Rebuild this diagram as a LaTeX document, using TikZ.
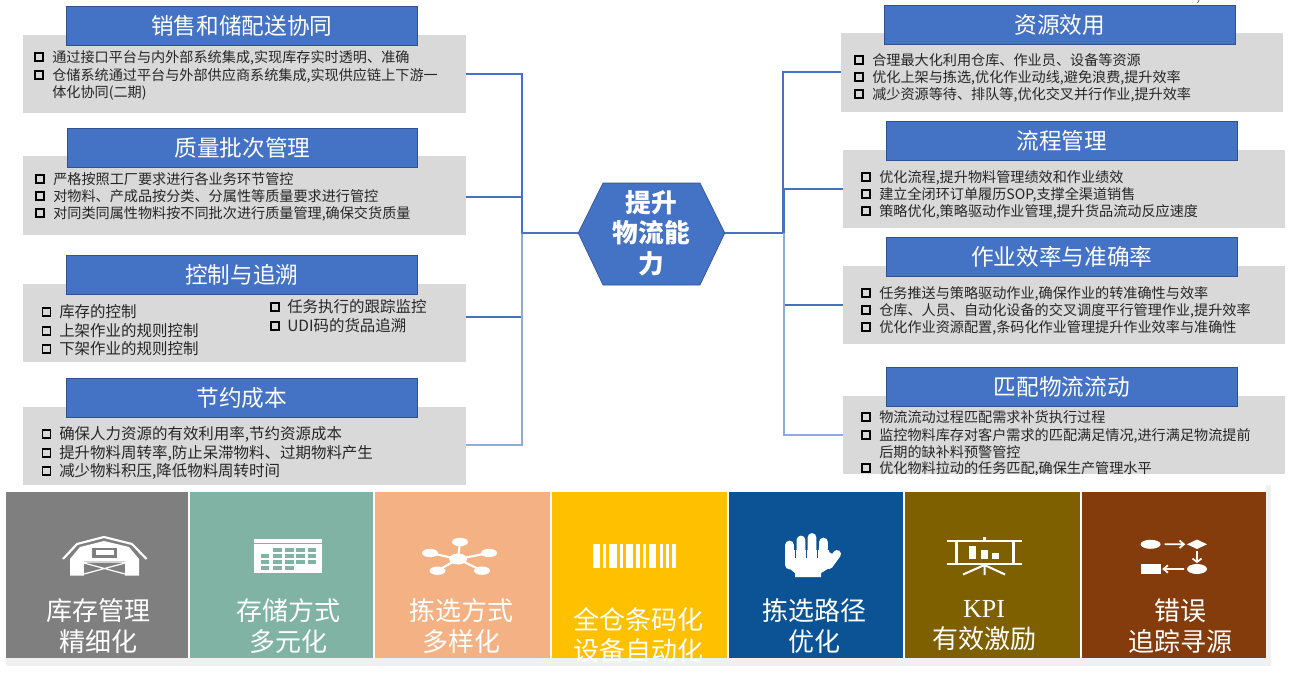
\documentclass[tikz,border=0pt]{standalone}
\usepackage{fontspec}
\setmainfont{Noto Sans CJK SC}
\newfontfamily\kpifont{Liberation Serif}
\definecolor{titleblue}{HTML}{4472C4}
\definecolor{titleedge}{HTML}{2F528F}
\definecolor{greybg}{HTML}{D9D9D9}
\definecolor{lightconn}{HTML}{8FAADC}
\definecolor{pGrey}{HTML}{7F7F7F}
\definecolor{pGreen}{HTML}{80B3A3}
\definecolor{pPeach}{HTML}{F4B183}
\definecolor{pYellow}{HTML}{FFC000}
\definecolor{pBlue}{HTML}{0B5394}
\definecolor{pOlive}{HTML}{7F6000}
\definecolor{pBrown}{HTML}{843C0C}
\definecolor{strip}{HTML}{F0F0F0}
\newcounter{lineno}
\tikzset{
  conn/.style={draw=titleblue,line width=.8pt},
  connlight/.style={draw=lightconn,line width=1.2pt},
  greybox/.style={fill=greybg,draw=none,inner sep=0,anchor=north west},
  titlebox/.style={fill=titleblue,draw=titleedge,line width=.7pt,inner sep=0,anchor=north west,text=white,font=\fontsize{17}{20}\selectfont},
  panel/.style={inner sep=0,anchor=north west},
  paneltext/.style={text=white,align=center,font=\fontsize{19.5}{23.3}\selectfont,inner sep=0},
  bulletbox/.style={draw=black,line width=1.4pt,minimum size=6pt,inner sep=0},
  itemsmall/.style={anchor=base west,inner sep=0,text=black!85,font=\fontsize{10.6}{12}\selectfont},
  itemlarge/.style={anchor=base west,inner sep=0,text=black!85,font=\fontsize{11.6}{13}\selectfont},
  icon/.style={fill=white,draw=none},
  iconline/.style={draw=white,line width=1.6pt},
}
% #1 name, #2 x1, #3 y1, #4 x2, #5 y2, #6 style
\newcommand{\pxbox}[6]{\node[#6,minimum width=(#4-#2)*0.75pt,minimum height=(#5-#3)*0.75pt] (#1) at (#2,#3) {};}
\newcommand{\titlerect}[6]{\node[titlebox,minimum width=(#4-#2)*0.75pt,minimum height=(#5-#3)*0.75pt] (#1) at (#2,#3) {#6};}
\newcommand{\panelrect}[6]{\node[panel,fill=#6,minimum width=(#4-#2)*0.75pt,minimum height=(#5-#3)*0.75pt] (#1) at (#2,#3) {};}
% #1 style, #2 bullet centre x, #3 text x, #4 y, #5 text
\newcommand{\bulletline}[5]{\stepcounter{lineno}\edef\nid{\arabic{lineno}}%
  \node[bulletbox] (b\nid) at (#2,#4) {};
  \node[#1] (t\nid) at (#3,#4+5) {#5};}
\newcommand{\contline}[4]{\stepcounter{lineno}\edef\nid{\arabic{lineno}}%
  \node[#1] (t\nid) at (#2,#3+5) {#4};}
\begin{document}
\begin{tikzpicture}[x=0.75pt,y=-0.75pt]
\useasboundingbox (0,0) rectangle (1296,675);
% connectors' hub
\node[inner sep=0,minimum width=146*0.75pt,minimum height=102*0.75pt] (hub) at (651.5,233) {};
\coordinate (lbus) at (522,233);
\coordinate (rbus) at (783,233);
\coordinate (rbusb) at (784,233);
\coordinate (le1) at (466,74);
\coordinate (le2) at (466,197);
\coordinate (le3) at (466,317);
\coordinate (le4) at (466,445);
\coordinate (re1) at (841,72);
\coordinate (re2) at (843,189);
\coordinate (re3) at (843,305);
\coordinate (re4) at (843,435);
\draw[conn] (le1) -| (lbus);
\draw[conn] (le2) -| (lbus);
\draw[conn] (le3) -| (lbus);
\draw[connlight] (le4) -| (lbus);
\draw[conn] (hub.west) -- (lbus);
\draw[conn] (re1) -| (rbus);
\draw[conn] (re2) -| (rbusb);
\draw[conn] (re3) -| (rbusb);
\draw[connlight] (re4) -| (rbusb);
\draw[conn] (hub.east) -- (rbus);
% left groups
\pxbox{lg1}{23}{35}{466}{113}{greybox}
\titlerect{lt1}{66}{6}{417}{45}{销售和储配送协同}
\bulletline{itemsmall}{39}{52}{57}{通过接口平台与内外部系统集成,实现库存实时透明、准确}
\bulletline{itemsmall}{39}{52}{75}{仓储系统通过平台与外部供应商系统集成,实现供应链上下游一}
\contline{itemsmall}{52}{92}{体化协同(二期)}
\pxbox{lg2}{23}{156}{466}{235}{greybox}
\titlerect{lt2}{67}{128}{417}{167}{质量批次管理}
\bulletline{itemsmall}{40}{53}{179}{严格按照工厂要求进行各业务环节管控}
\bulletline{itemsmall}{40}{53}{196}{对物料、产成品按分类、分属性等质量要求进行管控}
\bulletline{itemsmall}{40}{53}{213}{对同类同属性物料按不同批次进行质量管理,确保交货质量}
\pxbox{lg3}{23}{284}{466}{362}{greybox}
\titlerect{lt3}{66}{255}{417}{294}{控制与追溯}
\bulletline{itemlarge}{46.5}{59}{312}{库存的控制}
\bulletline{itemlarge}{46.5}{59}{331}{上架作业的规则控制}
\bulletline{itemlarge}{46.5}{59}{349}{下架作业的规则控制}
\bulletline{itemlarge}{275}{287}{307}{任务执行的跟踪监控}
\bulletline{itemlarge}{275}{287}{326}{UDI码的货品追溯}
\pxbox{lg4}{23}{407}{466}{485}{greybox}
\titlerect{lt4}{66}{378}{417}{417}{节约成本}
\bulletline{itemlarge}{46.5}{59}{434}{确保人力资源的有效利用率,节约资源成本}
\bulletline{itemlarge}{46.5}{59}{453}{提升物料周转率,防止呆滞物料、过期物料产生}
\bulletline{itemlarge}{46.5}{59}{471}{减少物料积压,降低物料周转时间}
% right groups
\pxbox{rg1}{841}{33}{1283}{112}{greybox}
\titlerect{rt1}{884}{5}{1235}{44}{资源效用}
\bulletline{itemsmall}{859}{872}{60}{合理最大化利用仓库、作业员、设备等资源}
\bulletline{itemsmall}{859}{872}{77}{优化上架与拣选,优化作业动线,避免浪费,提升效率}
\bulletline{itemsmall}{859}{872}{94}{减少资源等待、排队等,优化交叉并行作业,提升效率}
\pxbox{rg2}{843}{150}{1285}{228}{greybox}
\titlerect{rt2}{886}{121}{1237}{160}{流程管理}
\bulletline{itemsmall}{866}{879}{177}{优化流程,提升物料管理绩效和作业绩效}
\bulletline{itemsmall}{866}{879}{194}{建立全闭环订单履历SOP,支撑全渠道销售}
\bulletline{itemsmall}{866}{879}{211}{策略优化,策略驱动作业管理,提升货品流动反应速度}
\pxbox{rg3}{843}{266}{1285}{344}{greybox}
\titlerect{rt3}{886}{237}{1237}{276}{作业效率与准确率}
\bulletline{itemsmall}{866}{879}{293}{任务推送与策略驱动作业,确保作业的转准确性与效率}
\bulletline{itemsmall}{866}{879}{310}{仓库、人员、自动化设备的交叉调度平行管理作业,提升效率}
\bulletline{itemsmall}{866}{879}{327}{优化作业资源配置,条码化作业管理提升作业效率与准确性}
\pxbox{rg4}{843}{396}{1285}{474}{greybox}
\titlerect{rt4}{886}{367}{1237}{406}{匹配物流流动}
\bulletline{itemsmall}{866}{879}{417}{物流流动过程匹配需求补货执行过程}
\bulletline{itemsmall}{866}{879}{435}{监控物料库存对客户需求的匹配满足情况,进行满足物流提前}
\contline{itemsmall}{879}{452}{后期的缺补料预警管控}
\begin{scope}
\clip (843,460) rectangle (1285,474);
\bulletline{itemsmall}{866}{879}{468}{优化物料拉动的任务匹配,确保生产管理水平}
\end{scope}
% tiny mark at the top edge
\draw[black!70,line width=.5pt] (1199,0) -- (1197.5,3);
% hexagon
\fill[titleblue,draw=titleedge,line width=.5pt] (hub.west) -- (603,183) -- (700,183) -- (hub.east) -- (700,285) -- (603,285) -- cycle;
\node[inner sep=0,text=white,align=center,font=\fontsize{19.3}{23}\bfseries\selectfont] (hubtext) at (hub.center) {提升\\物流能\\力};
% bottom strip
\fill[strip] (6,485) -- (1271,485) -- (1271,666) -- (6,666) -- cycle;
\fill[white] (6,485) rectangle (1266,658);
\panelrect{p1}{6}{492}{188}{658}{pGrey}
\panelrect{p2}{190}{492}{373}{658}{pGreen}
\panelrect{p3}{375}{492}{550}{658}{pPeach}
\panelrect{p4}{552}{492}{727}{658}{pYellow}
\panelrect{p5}{729}{492}{903}{658}{pBlue}
\panelrect{p6}{905}{492}{1080}{658}{pOlive}
\panelrect{p7}{1082}{492}{1266}{658}{pBrown}
\node[paneltext] (x1) at (98,626) {库存管理\\精细化};
\node[paneltext] (x2) at (288,626) {存储方式\\多元化};
\node[paneltext] (x3) at (461,626) {拣选方式\\多样化};
\node[paneltext] (x4) at (638,635) {全仓条码化\\设备自动化};
\node[paneltext] (x5) at (814,626) {拣选路径\\优化};
\node[paneltext] (x6) at (984,626) {{\kpifont KPI}\\有效激励};
\node[paneltext] (x7) at (1180,626) {错误\\追踪寻源};
% barn icon
\draw[iconline,line join=round] (63,559) -- (77,544) -- (104,537) -- (132,544) -- (146.5,559);
\fill[icon] (70,575.5) -- (70,559) -- (80,547) -- (104,541) -- (129,547) -- (139,559) -- (139,575.5) -- cycle;
\fill[pGrey] (92,548) rectangle (117,557.5);
\fill[white] (96,549.8) rectangle (114,555);
\fill[pGrey] (84,561) rectangle (125,576);
\draw[white,line width=.9pt] (84,562) -- (125,562) (84,563) -- (125,574) (125,563) -- (84,574);
% table icon
\fill[icon] (254,539) rectangle (322,543.3);
\fill[icon] (254,544.2) rectangle (322,573);
\foreach \cx/\cw in {272.5/9,284.6/9,296.4/8.4,308.2/8}{\fill[pGreen] (\cx,548.3) rectangle ++(\cw,4);}
\foreach \cy in {554.3,560.3}{\foreach \cx/\cw in {260.7/8,272.5/9,284.6/9,296.4/8.4,308.2/8}{\fill[pGreen] (\cx,\cy) rectangle ++(\cw,4);}}
\foreach \cx/\cw in {260.7/8,272.5/9,284.6/9}{\fill[pGreen] (\cx,566.3) rectangle ++(\cw,4);}
% network icon
\draw[white,line width=1.6pt] (458,559) -- (460,542) (458,559) -- (430,553) (458,559) -- (489,553) (458,559) -- (437.5,570.7) (458,559) -- (482,570.7);
\fill[icon] (458,559) ellipse [x radius=9,y radius=5.5];
\foreach \nx/\ny in {460/542,430/553,489/553,437.5/570.7,482/570.7}{\fill[icon] (\nx,\ny) ellipse [x radius=8,y radius=4.2];}
% barcode icon
\foreach \bx/\bw in {593/7,603/3,609/8,620/3,626/7,636/4,643/3,649/7,660/3,666/3,671.5/4.5}{\fill[icon] (\bx,544) rectangle ++(\bw,24);}
% hand icon
\fill[icon] (785,553) -- (785,565) -- (795,573) -- (795,577) -- (821,577) -- (821,573) -- (831,567) -- (834,555) -- (829,552) -- (829,550) -- (785,550) -- cycle;
\draw[white,line width=6.6pt,line cap=round] (789.5,565) -- (789.5,545) (801,565) -- (801,540) (812,565) -- (812,537.5) (823,565) -- (823.5,542);
\draw[white,line width=6pt,line cap=round] (829,565) -- (837,554);
\draw[pBlue,line width=.6pt] (795.3,547) -- (795.3,558) (806.5,544) -- (806.5,558) (817.6,546) -- (817.6,558);
% presentation icon
\fill[icon] (947,539.5) rectangle (1022,542);
\fill[icon] (947,562.5) rectangle (1022,565);
\fill[icon] (982.5,537) rectangle (986,540);
\fill[icon] (955,541) rectangle (958,563);
\fill[icon] (1012,541) rectangle (1015,563);
\fill[icon] (968.5,545.7) rectangle (976,559);
\fill[icon] (980.5,550) rectangle (988,559);
\fill[icon] (991.7,553) rectangle (999.4,559);
\draw[white,line width=1.5pt] (984.5,564) -- (984.5,575) (984.5,565) -- (963,574.5) (984.5,565) -- (1005,574.5);
% flowchart icon
\fill[icon] (1150.6,544.3) ellipse [x radius=10,y radius=4.5];
\fill[icon] (1187,544.3) -- (1197,539.5) -- (1207,544.3) -- (1197,549) -- cycle;
\fill[icon] (1197,569) ellipse [x radius=10,y radius=5];
\fill[icon] (1140.5,564) rectangle (1160.8,574);
\draw[white,line width=1.3pt] (1164.5,544.3) -- (1184,544.3) (1179.5,540.5) -- (1184,544.3) -- (1179.5,548);
\draw[white,line width=1.3pt] (1197,551) -- (1197,562) (1192.5,558.5) -- (1197,562) -- (1201.5,558.5);
\draw[white,line width=1.3pt] (1184,569) -- (1163.5,569) (1168,565.3) -- (1163.5,569) -- (1168,572.7);
\end{tikzpicture}
\end{document}
